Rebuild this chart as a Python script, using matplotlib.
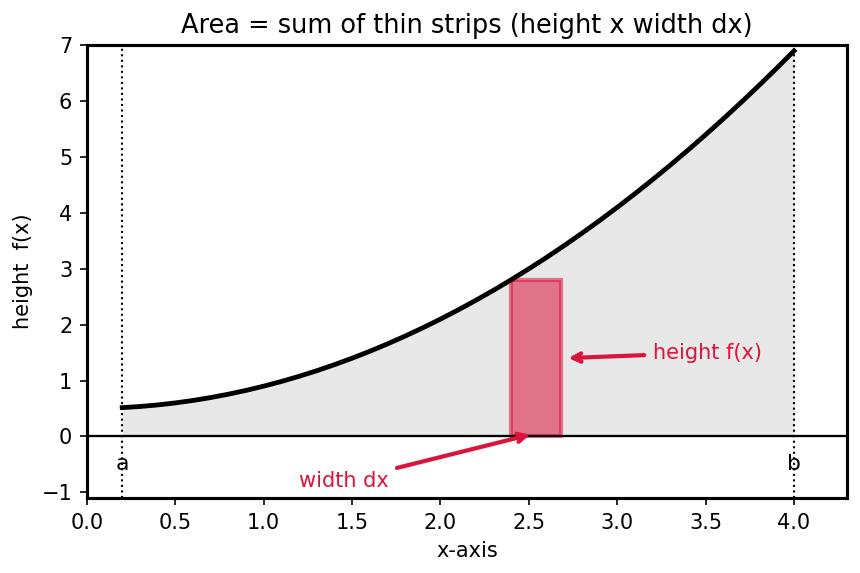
import matplotlib
matplotlib.use("Agg")
import matplotlib.pyplot as plt
from matplotlib.patches import Rectangle

# Curve values
x_vals = [0.2, 0.3, 0.4, 0.5, 0.6, 0.7, 0.8, 0.9, 1.0, 1.1, 1.2, 1.3, 1.4,
          1.5, 1.6, 1.7, 1.8, 1.9, 2.0, 2.1, 2.2, 2.3, 2.4, 2.5, 2.6, 2.7,
          2.8, 2.9, 3.0, 3.1, 3.2, 3.3, 3.4, 3.5, 3.6, 3.7, 3.8, 3.9, 4.0]
y_vals = [0.516, 0.536, 0.564, 0.600, 0.644, 0.696, 0.756, 0.824, 0.900,
          0.984, 1.076, 1.176, 1.284, 1.400, 1.524, 1.656, 1.796, 1.944,
          2.100, 2.264, 2.436, 2.616, 2.804, 3.000, 3.204, 3.416, 3.636,
          3.864, 4.100, 4.344, 4.596, 4.856, 5.124, 5.400, 5.684, 5.976,
          6.276, 6.584, 6.900]

a_val, b_val = 0.2, 4.0
strip_x = 2.4
strip_dx = 0.28
strip_h = 2.804

title = "Area = sum of thin strips (height x width dx)"
xlabel = "x-axis"
ylabel = "height  f(x)"
accent = "#DC143C"

DPI = 150
fig, ax = plt.subplots(figsize=(860 / DPI, 573 / DPI), dpi=DPI)

ax.fill_between(x_vals, y_vals, 0, color="lightgray", alpha=0.5, linewidth=0)
ax.plot(x_vals, y_vals, color="black", lw=2.3)
ax.axhline(0, color="black", lw=1.1)
ax.axvline(a_val, color="black", lw=1, ls=":")
ax.axvline(b_val, color="black", lw=1, ls=":")

ax.add_patch(Rectangle((strip_x, 0), strip_dx, strip_h,
                       facecolor=accent, edgecolor=accent, alpha=0.55, lw=2))

ax.annotate("height f(x)", xy=(strip_x + strip_dx + 0.02, 1.4), xytext=(3.2, 1.5),
            color=accent, fontsize=10, va="center", ha="left",
            arrowprops=dict(arrowstyle="->", color=accent, lw=2))
ax.annotate("width dx", xy=(strip_x + 0.13, 0.05), xytext=(1.2, -0.8),
            color=accent, fontsize=10, va="center", ha="left",
            arrowprops=dict(arrowstyle="->", color=accent, lw=2))

ax.text(a_val, -0.5, "a", ha="center", va="center", fontsize=10.5)
ax.text(b_val, -0.5, "b", ha="center", va="center", fontsize=10.5)

ax.set_xlim(0, 4.3)
ax.set_ylim(-1.1, 7)
ax.set_title(title, fontsize=12.3)
ax.set_xlabel(xlabel)
ax.set_ylabel(ylabel)
for s in ax.spines.values():
    s.set_linewidth(1.5)

fig.subplots_adjust(left=0.101, right=0.985, top=0.921, bottom=0.131)
fig.savefig("out.png", dpi=DPI)
